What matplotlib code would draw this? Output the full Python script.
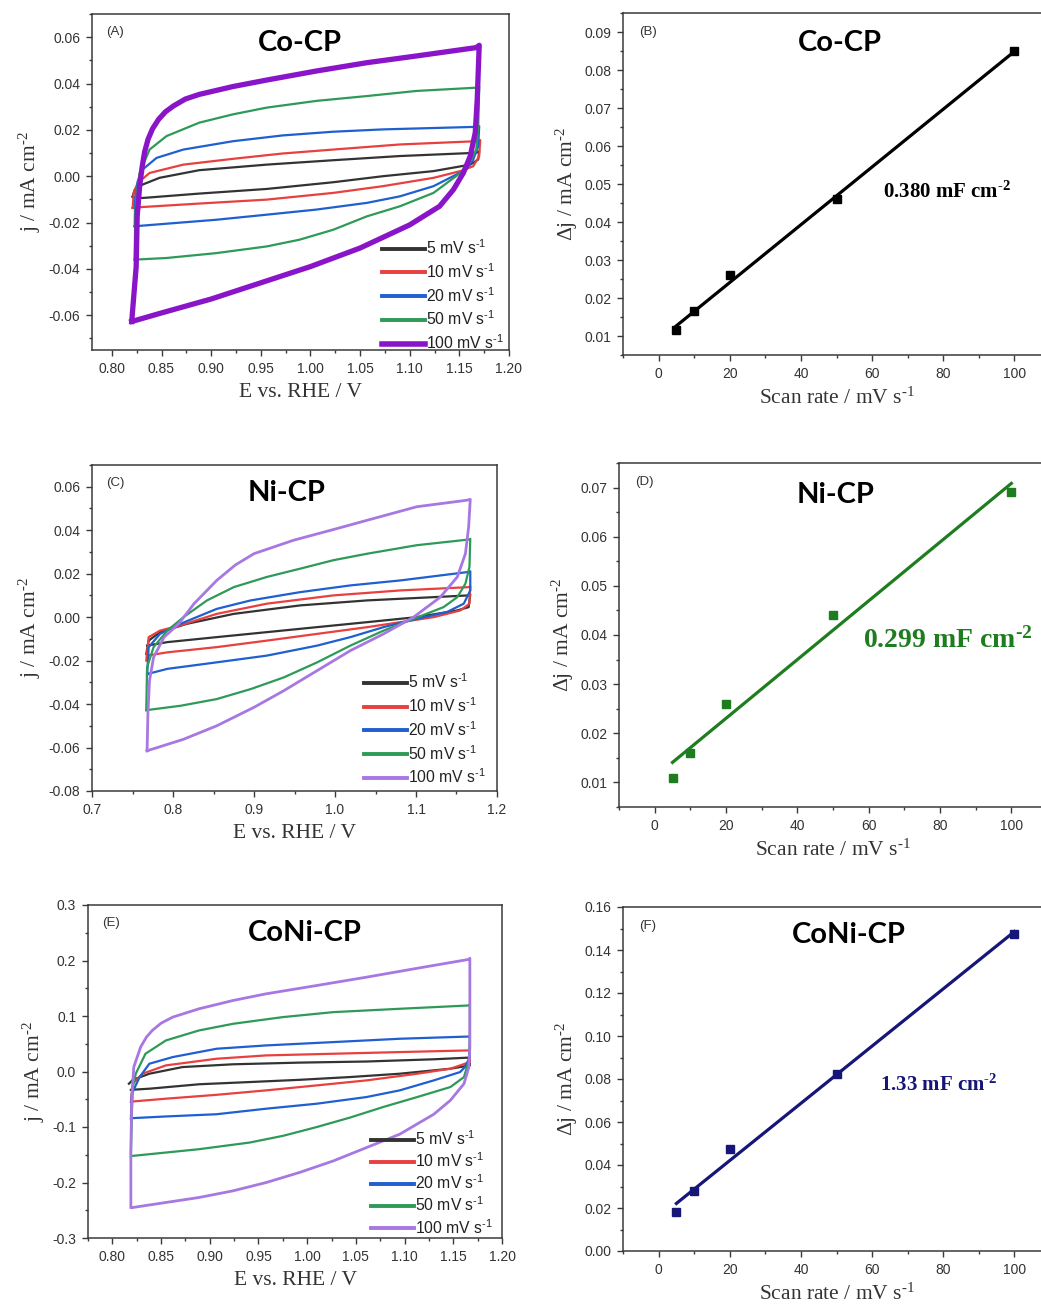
import numpy as np
import matplotlib
matplotlib.use("Agg")
import matplotlib.pyplot as plt
from matplotlib.ticker import MultipleLocator, FormatStrFormatter

plt.rcParams["axes.unicode_minus"] = False
plt.rcParams["font.family"] = "Liberation Sans"

SERIF = "Liberation Serif"
SANS = "Liberation Sans"
TITLE_FONT = "Lato"

# ---------------------------------------------------------------------------
# Data
# ---------------------------------------------------------------------------
scan_rates = [5, 10, 20, 50, 100]          # mV s-1
cv_colors = ["#333333", "#e8403f", "#1f5fd0", "#2e9a58"]
purple_co = "#8a14c8"
purple_light = "#a777e2"

# Cyclic voltammograms (E / V, j / mA cm-2), forward sweep then reverse sweep
co_5 = [(0.821, -0.0087), (0.823, -0.0058), (0.831, -0.0036), (0.848, -0.0007),
        (0.888, 0.0026), (0.956, 0.0050), (1.023, 0.0069), (1.090, 0.0087),
        (1.167, 0.0101), (1.170, 0.0108),
        (1.169, 0.0072), (1.161, 0.0050), (1.124, 0.0022), (1.073, 0.0000),
        (1.023, -0.0026), (0.956, -0.0055), (0.888, -0.0075), (0.831, -0.0094),
        (0.821, -0.0090)]
co_10 = [(0.821, -0.0137), (0.822, -0.0072), (0.826, -0.0029), (0.838, 0.0014),
         (0.872, 0.0050), (0.922, 0.0075), (0.972, 0.0098), (1.023, 0.0115),
         (1.090, 0.0137), (1.167, 0.0151), (1.171, 0.0156),
         (1.170, 0.0087), (1.164, 0.0043), (1.151, 0.0022), (1.124, -0.0007),
         (1.073, -0.0043), (1.023, -0.0072), (0.956, -0.0101), (0.888, -0.0118),
         (0.831, -0.0133), (0.821, -0.0137)]
co_20 = [(0.823, -0.0216), (0.8235, -0.0101), (0.826, -0.0022), (0.831, 0.0029),
         (0.845, 0.0079), (0.872, 0.0115), (0.922, 0.0151), (0.972, 0.0176),
         (1.023, 0.0192), (1.073, 0.0202), (1.167, 0.0213), (1.170, 0.0216),
         (1.169, 0.0130), (1.164, 0.0072), (1.157, 0.0029), (1.124, -0.0043),
         (1.090, -0.0087), (1.057, -0.0115), (1.006, -0.0144), (0.956, -0.0166),
         (0.905, -0.0188), (0.855, -0.0205), (0.823, -0.0216)]
co_50 = [(0.823, -0.0360), (0.8235, -0.0173), (0.825, -0.0072), (0.828, 0.0014),
         (0.838, 0.0115), (0.855, 0.0173), (0.888, 0.0231), (0.922, 0.0267),
         (0.956, 0.0296), (1.006, 0.0325), (1.057, 0.0346), (1.107, 0.0368),
         (1.167, 0.0382), (1.170, 0.0387),
         (1.169, 0.0216), (1.167, 0.0115), (1.160, 0.0058), (1.151, 0.0014),
         (1.124, -0.0072), (1.090, -0.0130), (1.057, -0.0173), (1.023, -0.0231),
         (0.989, -0.0274), (0.956, -0.0303), (0.905, -0.0332), (0.855, -0.0353),
         (0.823, -0.0360)]
co_100 = [(0.820, -0.0627), (0.8245, -0.0390), (0.8255, -0.0173), (0.828, -0.0043),
          (0.8306, 0.0043), (0.833, 0.0105), (0.8365, 0.0160), (0.841, 0.0205),
          (0.847, 0.0245), (0.854, 0.0278), (0.862, 0.0303), (0.874, 0.0333),
          (0.888, 0.0353), (0.922, 0.0387), (0.956, 0.0415), (1.006, 0.0454),
          (1.057, 0.0490), (1.107, 0.0519), (1.167, 0.0555), (1.170, 0.0565),
          (1.168, 0.0332), (1.166, 0.0188), (1.161, 0.0087), (1.154, 0.0014),
          (1.144, -0.0058), (1.130, -0.0130), (1.100, -0.0210), (1.050, -0.0310),
          (1.000, -0.0390), (0.950, -0.0460), (0.900, -0.0530), (0.850, -0.0590),
          (0.820, -0.0627)]

ni_5 = [(0.767, -0.0169), (0.770, -0.0108), (0.784, -0.0069), (0.817, -0.0031),
        (0.875, 0.0015), (0.957, 0.0054), (1.040, 0.0077), (1.122, 0.0092),
        (1.165, 0.0100), (1.167, 0.0105),
        (1.165, 0.0046), (1.151, 0.0031), (1.101, 0.0000), (1.040, -0.0023),
        (0.978, -0.0046), (0.916, -0.0069), (0.854, -0.0092), (0.793, -0.0115),
        (0.768, -0.0131)]
ni_10 = [(0.767, -0.0200), (0.770, -0.0092), (0.784, -0.0062), (0.809, -0.0038),
         (0.854, 0.0015), (0.916, 0.0062), (0.998, 0.0100), (1.081, 0.0123),
         (1.165, 0.0138), (1.167, 0.0142),
         (1.166, 0.0062), (1.155, 0.0031), (1.122, 0.0000), (1.081, -0.0023),
         (1.040, -0.0046), (0.978, -0.0077), (0.916, -0.0108), (0.854, -0.0138),
         (0.793, -0.0162), (0.768, -0.0177)]
ni_20 = [(0.768, -0.0269), (0.770, -0.0138), (0.784, -0.0077), (0.809, -0.0031),
         (0.854, 0.0038), (0.896, 0.0077), (0.957, 0.0115), (1.019, 0.0146),
         (1.081, 0.0169), (1.165, 0.0208), (1.167, 0.0211),
         (1.167, 0.0123), (1.159, 0.0062), (1.138, 0.0023), (1.101, -0.0008),
         (1.060, -0.0046), (1.019, -0.0092), (0.978, -0.0131), (0.916, -0.0177),
         (0.854, -0.0208), (0.793, -0.0238), (0.768, -0.0262)]
ni_50 = [(0.767, -0.0428), (0.768, -0.0231), (0.776, -0.0138), (0.793, -0.0062),
         (0.813, 0.0000), (0.842, 0.0077), (0.875, 0.0138), (0.916, 0.0185),
         (0.957, 0.0223), (0.998, 0.0262), (1.040, 0.0292), (1.101, 0.0331),
         (1.165, 0.0357), (1.167, 0.0360),
         (1.166, 0.0231), (1.161, 0.0154), (1.151, 0.0092), (1.134, 0.0046),
         (1.097, -0.0008), (1.060, -0.0062), (1.019, -0.0131), (0.978, -0.0208),
         (0.937, -0.0277), (0.896, -0.0331), (0.854, -0.0377), (0.809, -0.0408),
         (0.767, -0.0428)]
ni_100 = [(0.768, -0.0615), (0.769, -0.0446), (0.771, -0.0292), (0.776, -0.0185),
          (0.789, -0.0092), (0.807, -0.0031), (0.826, 0.0062), (0.854, 0.0169),
          (0.877, 0.0240), (0.900, 0.0292), (0.949, 0.0354), (0.998, 0.0403),
          (1.040, 0.0446), (1.101, 0.0508), (1.163, 0.0538), (1.167, 0.0542),
          (1.165, 0.0415), (1.161, 0.0292), (1.151, 0.0185), (1.130, 0.0092),
          (1.097, 0.0000), (1.060, -0.0077), (1.019, -0.0154), (0.978, -0.0246),
          (0.937, -0.0338), (0.900, -0.0415), (0.854, -0.0500), (0.813, -0.0562),
          (0.768, -0.0615)]

coni_5 = [(0.817, -0.022), (0.821, -0.015), (0.838, -0.004), (0.872, 0.008),
          (0.924, 0.013), (0.992, 0.016), (1.061, 0.018), (1.130, 0.022),
          (1.166, 0.025), (1.167, 0.026),
          (1.167, 0.011), (1.147, 0.005), (1.095, -0.004), (1.044, -0.010),
          (0.992, -0.015), (0.941, -0.019), (0.889, -0.023), (0.838, -0.031),
          (0.819, -0.033)]
coni_10 = [(0.819, -0.055), (0.821, -0.022), (0.831, -0.004), (0.855, 0.011),
           (0.907, 0.023), (0.958, 0.029), (1.027, 0.032), (1.095, 0.035),
           (1.166, 0.038), (1.167, 0.039),
           (1.167, 0.017), (1.147, 0.005), (1.113, -0.004), (1.061, -0.016),
           (1.010, -0.025), (0.958, -0.034), (0.907, -0.042), (0.855, -0.049),
           (0.821, -0.054)]
coni_20 = [(0.819, -0.086), (0.820, -0.040), (0.828, -0.010), (0.838, 0.014),
           (0.862, 0.026), (0.907, 0.041), (0.958, 0.047), (1.027, 0.053),
           (1.095, 0.059), (1.166, 0.063), (1.167, 0.064),
           (1.167, 0.026), (1.162, 0.008), (1.157, -0.001), (1.130, -0.016),
           (1.095, -0.034), (1.061, -0.046), (1.010, -0.058), (0.958, -0.067),
           (0.907, -0.077), (0.855, -0.081), (0.821, -0.084)]
coni_50 = [(0.819, -0.152), (0.820, -0.077), (0.821, -0.028), (0.824, -0.004),
           (0.834, 0.032), (0.855, 0.056), (0.889, 0.074), (0.924, 0.086),
           (0.975, 0.098), (1.027, 0.107), (1.095, 0.113), (1.166, 0.119),
           (1.167, 0.121),
           (1.167, 0.056), (1.166, 0.020), (1.161, -0.010), (1.147, -0.028),
           (1.113, -0.046), (1.078, -0.064), (1.044, -0.083), (1.010, -0.100),
           (0.975, -0.116), (0.941, -0.128), (0.889, -0.140), (0.821, -0.152)]
coni_100 = [(0.819, -0.245), (0.819, -0.137), (0.820, -0.046), (0.822, 0.008),
            (0.829, 0.044), (0.835, 0.062), (0.841, 0.074), (0.850, 0.087),
            (0.862, 0.098), (0.889, 0.113),
            (0.924, 0.128), (0.958, 0.140), (1.010, 0.155), (1.061, 0.170),
            (1.113, 0.186), (1.166, 0.202), (1.167, 0.204),
            (1.167, 0.104), (1.167, 0.044), (1.166, 0.008), (1.161, -0.022),
            (1.147, -0.052), (1.130, -0.077), (1.095, -0.113), (1.061, -0.137),
            (1.027, -0.161), (0.992, -0.182), (0.958, -0.200), (0.924, -0.215),
            (0.889, -0.227), (0.855, -0.236), (0.821, -0.245)]

# Charging-current differences vs scan rate
co_dj = [0.0115, 0.0165, 0.026, 0.046, 0.085]
ni_dj = [0.011, 0.016, 0.026, 0.044, 0.069]
coni_dj = [0.018, 0.028, 0.0475, 0.0825, 0.1475]

cdl_labels = ["0.380", "0.299", "1.33"]
materials = ["Co-CP", "Ni-CP", "CoNi-CP"]

# ---------------------------------------------------------------------------
W, H = 1041, 1311
fig = plt.figure(figsize=(W / 100, H / 100), dpi=100)


def px_axes(left, top, right, bottom):
    return fig.add_axes([left / W, 1 - bottom / H, (right - left) / W, (bottom - top) / H])


def style(ax):
    for s in ax.spines.values():
        s.set_linewidth(1.1)
        s.set_color("#3a3a3a")
    ax.tick_params(which="both", direction="out", top=False, right=False,
                   labelsize=10, color="#3a3a3a", labelcolor="#333333", width=1.0)
    ax.tick_params(which="major", length=4.5, pad=4)
    ax.tick_params(which="minor", length=2.5)
    for lab in ax.get_xticklabels() + ax.get_yticklabels():
        lab.set_family(SANS)


def sup(text, power):
    # superscript drawn with a plain hyphen in the surrounding text font
    return text + r"$\mathregular{^{" + power.replace("-", "\u2010") + r"}}$"


def cv_panel(ax, curves, purple, lw_big, xlim, ylim, xmaj, xmin, ymaj, ymin, xfmt, yfmt,
             letter, material, title_xy, legend_anchor, spacing):
    colors = cv_colors + [purple]
    for pts, c, r in zip(curves, colors, scan_rates):
        E = [p[0] for p in pts]
        j = [p[1] for p in pts]
        lw = lw_big if r == 100 else 1.6
        ax.plot(E, j, color=c, lw=lw, label=sup(f"{r} mV s", "-1"),
                solid_joinstyle="round")
    ax.set_xlim(*xlim)
    ax.set_ylim(*ylim)
    ax.xaxis.set_major_locator(MultipleLocator(xmaj))
    ax.xaxis.set_minor_locator(MultipleLocator(xmin))
    ax.yaxis.set_major_locator(MultipleLocator(ymaj))
    ax.yaxis.set_minor_locator(MultipleLocator(ymin))
    ax.xaxis.set_major_formatter(FormatStrFormatter(xfmt))
    ax.yaxis.set_major_formatter(FormatStrFormatter(yfmt))
    style(ax)
    ax.set_xlabel("E vs. RHE / V", family=SERIF, fontsize=15.5, color="#333333", labelpad=5)
    ax.set_ylabel(sup("j / mA cm", "-2"), family=SERIF, fontsize=15.5, color="#333333", labelpad=4)
    ax.text(0.035, 0.945, letter, transform=ax.transAxes, fontsize=9.5,
            family=SANS, color="#333333", va="center")
    fig.text(title_xy[0] / W, 1 - title_xy[1] / H, material, family=TITLE_FONT,
             weight="bold", fontsize=21, ha="center", va="center", color="black")
    leg = ax.legend(loc="lower right", bbox_to_anchor=legend_anchor, frameon=False,
                    prop={"family": SANS, "size": 11.3}, handlelength=2.7,
                    handletextpad=0.1, labelspacing=spacing, borderpad=0.2,
                    borderaxespad=0.1)
    for line, r in zip(leg.get_lines(), scan_rates):
        line.set_linewidth(4.0 if (r == 100 and lw_big > 3) else 2.8)
    for t in leg.get_texts():
        t.set_color("#222222")


def rate_panel(ax, dj, color, ylim, ymaj, ymin, letter, material, title_xy,
               cdl, text_xy, text_size):
    x = np.array(scan_rates, dtype=float)
    y = np.array(dj)
    slope, intercept = np.polyfit(x, y, 1)
    xf = np.array([x.min(), x.max()])
    ax.plot(xf, slope * xf + intercept, color=color, lw=2.3, zorder=2)
    ax.plot(x, y, "s", color=color, ms=5.5, zorder=3, mec=color)
    ax.set_xlim(-10, 110)
    ax.set_ylim(*ylim)
    ax.xaxis.set_major_locator(MultipleLocator(20))
    ax.xaxis.set_minor_locator(MultipleLocator(10))
    ax.yaxis.set_major_locator(MultipleLocator(ymaj))
    ax.yaxis.set_minor_locator(MultipleLocator(ymin))
    ax.xaxis.set_major_formatter(FormatStrFormatter("%d"))
    ax.yaxis.set_major_formatter(FormatStrFormatter("%.2f"))
    style(ax)
    ax.set_xlabel(sup("Scan rate / mV s", "-1"), family=SERIF, fontsize=15.5,
                  color="#333333", labelpad=5)
    ax.set_ylabel(sup("Δj / mA cm", "-2"), family=SERIF, fontsize=15.5,
                  color="#333333", labelpad=3)
    ax.text(0.037, 0.944, letter, transform=ax.transAxes, fontsize=9.5,
            family=SANS, color="#333333", va="center")
    fig.text(title_xy[0] / W, 1 - title_xy[1] / H, material, family=TITLE_FONT,
             weight="bold", fontsize=21, ha="center", va="center", color="black")
    ax.text(text_xy[0], text_xy[1], sup(f"{cdl} mF cm", "-2"), transform=ax.transAxes,
            family=SERIF, weight="bold", fontsize=text_size, color=color, va="center")


# Panel A
axA = px_axes(92, 14, 509, 350)
cv_panel(axA, [co_5, co_10, co_20, co_50, co_100], purple_co, 3.8,
         (0.78, 1.20), (-0.075, 0.070), 0.05, 0.025, 0.02, 0.01, "%.2f", "%.2f",
         "(A)", materials[0], (300, 43), (1.0, -0.02), 0.32)

# Panel B
axB = px_axes(623, 13, 1050, 355)
rate_panel(axB, co_dj, "black", (0.005, 0.095), 0.01, 0.005, "(B)", materials[0],
           (840, 43), cdl_labels[0], (0.61, 0.477), 15)

# Panel C
axC = px_axes(92, 465, 497, 791)
cv_panel(axC, [ni_5, ni_10, ni_20, ni_50, ni_100], purple_light, 2.0,
         (0.70, 1.20), (-0.08, 0.070), 0.1, 0.05, 0.02, 0.01, "%.1f", "%.2f",
         "(C)", materials[1], (287, 493), (0.985, 0.0), 0.32)

# Panel D
axD = px_axes(619, 463, 1047, 807)
rate_panel(axD, ni_dj, "#1e7d1e", (0.005, 0.075), 0.01, 0.005, "(D)", materials[1],
           (836, 495), cdl_labels[1], (0.57, 0.485), 20)

# Panel E
axE = px_axes(88, 905, 502, 1238)
cv_panel(axE, [coni_5, coni_10, coni_20, coni_50, coni_100], purple_light, 2.0,
         (0.775, 1.20), (-0.3, 0.3), 0.05, 0.025, 0.1, 0.05, "%.2f", "%.1f",
         "(E)", materials[2], (305, 933), (0.99, -0.01), 0.22)

# Panel F
axF = px_axes(623, 907, 1050, 1251)
rate_panel(axF, coni_dj, "#161678", (0.0, 0.16), 0.02, 0.01, "(F)", materials[2],
           (849, 935), cdl_labels[2], (0.602, 0.483), 15)

fig.savefig("out.png", dpi=100, facecolor="white")
